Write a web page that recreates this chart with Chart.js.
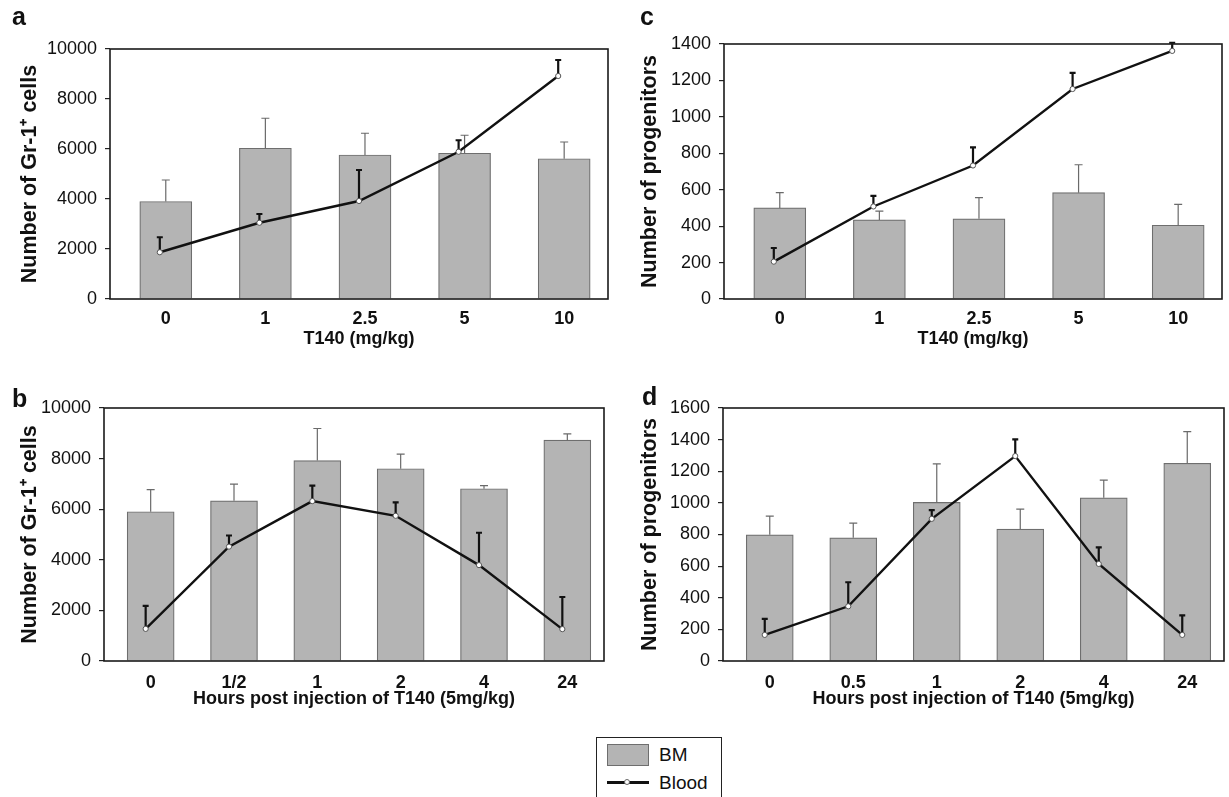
<!DOCTYPE html>
<html>
<head>
<meta charset="utf-8">
<script src="https://cdn.jsdelivr.net/npm/chart.js@4.4.1/dist/chart.umd.min.js"></script>
<style>
body { margin:0; background:#fff; width:1229px; height:797px; position:relative; overflow:hidden; font-family:"Liberation Sans", Arial, sans-serif; }
canvas { position:absolute; }
#legend { position:absolute; left:596px; top:737px; width:124px; height:80px; border:1.5px solid #222; background:#fff; }
#legend .sw { position:absolute; left:10px; top:6px; width:40px; height:20px; background:#b4b4b4; border:1px solid #6e6e6e; }
#legend .ln { position:absolute; left:10px; top:43px; width:42px; height:3px; background:#111; }
#legend .pt { position:absolute; left:27px; top:41px; width:4px; height:4px; border-radius:50%; background:#fff; border:1px solid #666; }
#legend .lt { position:absolute; left:62px; font-size:19px; line-height:22px; color:#111; }
</style>
</head>
<body>
<canvas id="chartA" width="614" height="350" style="left:0;top:0"></canvas>
<canvas id="chartB" width="614" height="350" style="left:0;top:360px"></canvas>
<canvas id="chartC" width="615" height="350" style="left:614px;top:0"></canvas>
<canvas id="chartD" width="615" height="350" style="left:614px;top:360px"></canvas>
<div id="legend">
  <div class="sw"></div><span class="lt" style="top:6px">BM</span>
  <div class="ln"></div><div class="pt"></div><span class="lt" style="top:34px">Blood</span>
</div>
<script>
// categories
const doseLabels = ['0', '1', '2.5', '5', '10'];
const hourLabelsB = ['0', '1/2', '1', '2', '4', '24'];
const hourLabelsD = ['0', '0.5', '1', '2', '4', '24'];

// a: Gr-1+ cells vs dose
const gr1DoseBM = [3900, 6030, 5760, 5830, 5610];
const gr1DoseBMErr = [860, 1200, 870, 720, 670];
const gr1DoseBlood = [1870, 3050, 3920, 5890, 8920];
const gr1DoseBloodErr = [600, 350, 1240, 460, 640];

// b: Gr-1+ cells vs time
const gr1TimeBM = [5900, 6330, 7920, 7600, 6810, 8730];
const gr1TimeBMErr = [870, 660, 1270, 580, 120, 250];
const gr1TimeBlood = [1270, 4520, 6320, 5740, 3790, 1260];
const gr1TimeBloodErr = [910, 440, 610, 530, 1280, 1270];

// c: progenitors vs dose
const progDoseBM = [500, 434, 440, 584, 405];
const progDoseBMErr = [84, 48, 117, 153, 115];
const progDoseBlood = [205, 508, 733, 1153, 1362];
const progDoseBloodErr = [75, 58, 99, 88, 45];

// d: progenitors vs time
const progTimeBM = [798, 779, 1003, 834, 1032, 1250];
const progTimeBMErr = [118, 93, 244, 126, 112, 200];
const progTimeBlood = [165, 346, 899, 1296, 614, 165];
const progTimeBloodErr = [101, 152, 55, 106, 104, 124];

const FONT = '"Liberation Sans", Arial, sans-serif';
const BAR_SHIFT = 0.06; // bars sit a bit right of the line points in the original

// Draw upper error bars, before the line so points stay on top
const errorBars = {
    id: 'errorBars',
    beforeDatasetDraw(chart, args) {
        if (args.meta.type !== 'line') return;
        const ctx = chart.ctx;
        const yScale = chart.scales.y;
        chart.data.datasets.forEach((ds, i) => {
            const meta = chart.getDatasetMeta(i);
            const isLine = meta.type === 'line';
            const cap = isLine ? 3 : 4;
            ctx.save();
            ctx.strokeStyle = isLine ? '#111' : '#6a6a6a';
            ctx.lineWidth = isLine ? 2.2 : 1.2;
            meta.data.forEach((el, j) => {
                const top = yScale.getPixelForValue(ds.data[j].y + ds.errors[j]);
                ctx.beginPath();
                ctx.moveTo(el.x, el.y);
                ctx.lineTo(el.x, top);
                ctx.moveTo(el.x - cap, top);
                ctx.lineTo(el.x + cap, top);
                ctx.stroke();
            });
            ctx.restore();
        });
    }
};

// Box round the plot area and the panel letter
const frame = {
    id: 'frame',
    afterDatasetsDraw(chart) {
        const {ctx, chartArea: a} = chart;
        ctx.save();
        ctx.strokeStyle = '#1a1a1a';
        ctx.lineWidth = 1.6;
        ctx.strokeRect(a.left, a.top, a.right - a.left, a.bottom - a.top);
        ctx.restore();
    },
    afterDraw(chart, args, opts) {
        const ctx = chart.ctx;
        ctx.save();
        ctx.fillStyle = '#111';
        ctx.font = 'bold 25px ' + FONT;
        ctx.textBaseline = 'alphabetic';
        ctx.fillText(opts.letter, opts.x, opts.y);
        ctx.restore();
    }
};

function makePanel(id, p) {
    const n = p.labels.length;
    new Chart(document.getElementById(id), {
        data: {
            datasets: [{
                type: 'line',
                label: 'Blood',
                data: p.blood.map((v, i) => ({x: i, y: v})),
                errors: p.bloodErr,
                xAxisID: 'xl',
                order: 0,
                borderColor: '#111',
                borderWidth: 2.4,
                pointRadius: 2.6,
                pointBackgroundColor: '#fff',
                pointBorderColor: '#555',
                pointBorderWidth: 1,
                tension: 0
            }, {
                type: 'bar',
                label: 'BM',
                data: p.bm.map((v, i) => ({x: i, y: v})),
                errors: p.bmErr,
                xAxisID: 'x',
                order: 1,
                grouped: false,
                backgroundColor: '#b4b4b4',
                borderColor: '#6e6e6e',
                borderWidth: 1.2,
                barThickness: p.barW
            }]
        },
        options: {
            responsive: false,
            animation: false,
            events: [],
            layout: {padding: {top: p.top, right: p.right, left: 0, bottom: 0}},
            plugins: {
                legend: {display: false},
                tooltip: {enabled: false},
                frame: {letter: p.letter, x: p.lx, y: p.ly}
            },
            scales: {
                x: {
                    type: 'linear',
                    offset: false,
                    min: -0.5 - BAR_SHIFT,
                    max: n - 0.5 - BAR_SHIFT,
                    afterBuildTicks: s => { s.ticks = p.labels.map((_, i) => ({value: i})); },
                    afterFit: s => { s.height = p.xh; },
                    grid: {display: false, offset: false},
                    border: {display: false},
                    ticks: {
                        autoSkip: false, maxRotation: 0, padding: p.tickPad,
                        color: '#111', font: {family: FONT, size: 18, weight: 'bold'},
                        callback: v => p.labels[v]
                    },
                    title: {
                        display: true, text: p.xTitle, color: '#111',
                        font: {family: FONT, size: 18, weight: 'bold'},
                        padding: {top: 0, bottom: 0}
                    }
                },
                xl: {type: 'linear', display: false, offset: false, min: -0.5, max: n - 0.5},
                y: {
                    min: 0, max: p.yMax,
                    afterFit: s => { s.width = p.yw; },
                    grid: {drawOnChartArea: false, drawTicks: true, tickLength: 5, color: '#222', lineWidth: 1.2},
                    border: {display: false},
                    ticks: {stepSize: p.yStep, padding: 8, color: '#111', font: {family: FONT, size: 18},
                        callback: v => String(v)},
                    title: {
                        display: true, text: p.yTitle, color: '#111',
                        font: {family: FONT, size: 21.5, weight: 'bold'},
                        padding: {top: p.titleOff, bottom: 0}
                    }
                }
            }
        },
        plugins: [errorBars, frame]
    });
}

makePanel('chartA', {
    labels: doseLabels, bm: gr1DoseBM, bmErr: gr1DoseBMErr, blood: gr1DoseBlood, bloodErr: gr1DoseBloodErr,
    yMax: 10000, yStep: 2000, yTitle: 'Number of Gr-1\u207A cells', xTitle: 'T140 (mg/kg)',
    letter: 'a', lx: 12, ly: 25, top: 49, right: 6, yw: 110, xh: 51, tickPad: 1, titleOff: 17, barW: 52
});
makePanel('chartB', {
    labels: hourLabelsB, bm: gr1TimeBM, bmErr: gr1TimeBMErr, blood: gr1TimeBlood, bloodErr: gr1TimeBloodErr,
    yMax: 10000, yStep: 2000, yTitle: 'Number of Gr-1\u207A cells', xTitle: 'Hours post injection of T140 (5mg/kg)',
    letter: 'b', lx: 12, ly: 47, top: 48, right: 10, yw: 104, xh: 49, tickPad: 3, titleOff: 17, barW: 47
});
makePanel('chartC', {
    labels: doseLabels, bm: progDoseBM, bmErr: progDoseBMErr, blood: progDoseBlood, bloodErr: progDoseBloodErr,
    yMax: 1400, yStep: 200, yTitle: 'Number of progenitors', xTitle: 'T140 (mg/kg)',
    letter: 'c', lx: 26, ly: 25, top: 44, right: 7, yw: 110, xh: 51, tickPad: 1, titleOff: 23, barW: 52
});
makePanel('chartD', {
    labels: hourLabelsD, bm: progTimeBM, bmErr: progTimeBMErr, blood: progTimeBlood, bloodErr: progTimeBloodErr,
    yMax: 1600, yStep: 200, yTitle: 'Number of progenitors', xTitle: 'Hours post injection of T140 (5mg/kg)',
    letter: 'd', lx: 28, ly: 45, top: 48, right: 2, yw: 109, xh: 49, tickPad: 3, titleOff: 23, barW: 47
});
</script>
</body>
</html>
